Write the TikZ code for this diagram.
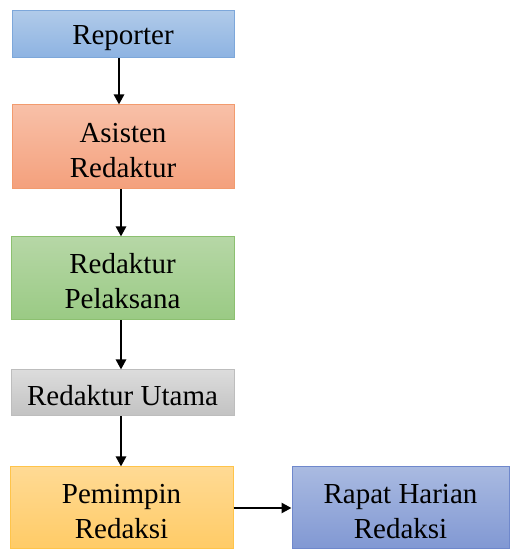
\documentclass[tikz,border=0pt]{standalone}
\usepackage{fontspec}
\setmainfont{Liberation Serif}
\usetikzlibrary{arrows.meta}
\definecolor{repT}{HTML}{B0CAE9}\definecolor{repB}{HTML}{8DB3E2}\definecolor{repD}{HTML}{7DA7DA}
\definecolor{asT}{HTML}{F8C0A8}\definecolor{asB}{HTML}{F4A07C}\definecolor{asD}{HTML}{F29B6E}
\definecolor{plT}{HTML}{B6D7A6}\definecolor{plB}{HTML}{9ACA84}\definecolor{plD}{HTML}{8CC070}
\definecolor{utT}{HTML}{DCDCDC}\definecolor{utB}{HTML}{C2C2C2}\definecolor{utD}{HTML}{BDBDBD}
\definecolor{pmT}{HTML}{FFDA94}\definecolor{pmB}{HTML}{FFCB66}\definecolor{pmD}{HTML}{FFC44A}
\definecolor{rpT}{HTML}{A9BAE1}\definecolor{rpB}{HTML}{8198D3}\definecolor{rpD}{HTML}{6F88CC}
\newcommand{\topstrut}{\rule{0pt}{26pt}}
\tikzset{
  box/.style={rectangle, line width=1pt, align=center, inner sep=0pt,
    font=\fontsize{29}{35}\selectfont, text=black},
  conn/.style={line width=2.7pt, -{Triangle[length=10pt,width=10pt]}}
}
\begin{document}
\begin{tikzpicture}[x=1pt,y=1pt]
\useasboundingbox (0,0) rectangle (510,550);
\node[box, draw=repD, top color=repT, bottom color=repB, minimum width=222pt, minimum height=47pt] (rep) at (123,515.5) {\topstrut Reporter};
\node[box, draw=asD, top color=asT, bottom color=asB, minimum width=222pt, minimum height=84pt] (ast) at (123,403) {\topstrut Asisten\\Redaktur};
\node[box, draw=plD, top color=plT, bottom color=plB, minimum width=223pt, minimum height=83pt] (pel) at (122.5,271.5) {\topstrut Redaktur\\Pelaksana};
\node[box, draw=utD, top color=utT, bottom color=utB, minimum width=223pt, minimum height=46pt] (uta) at (122.5,157) {\topstrut Redaktur Utama};
\node[box, draw=pmD, top color=pmT, bottom color=pmB, minimum width=223pt, minimum height=82pt] (pem) at (121.5,42) {\topstrut Pemimpin\\Redaksi};
\node[box, draw=rpD, top color=rpT, bottom color=rpB, minimum width=217pt, minimum height=82pt] (rap) at (400.5,42) {\topstrut Rapat Harian\\Redaksi};
\draw[conn] ([xshift=-4pt]rep.south) -- ([xshift=-4pt]ast.north);
\draw[conn] ([xshift=-2pt]ast.south) -- ([xshift=-1.5pt]pel.north);
\draw[conn] ([xshift=-1.5pt]pel.south) -- ([xshift=-1.5pt]uta.north);
\draw[conn] ([xshift=-1.5pt]uta.south) -- ([xshift=-0.5pt]pem.north);
\draw[conn] (pem.east) -- (rap.west);
\end{tikzpicture}
\end{document}
